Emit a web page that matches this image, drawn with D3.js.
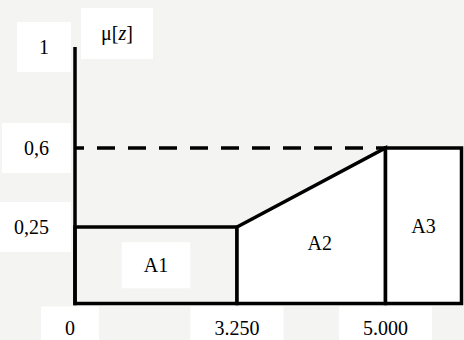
<!DOCTYPE html>
<html>
<head>
<meta charset="utf-8">
<script src="https://cdn.jsdelivr.net/npm/d3@7"></script>
<style>
  body { margin: 0; background: #f4f5f2; }
  svg { display: block; }
</style>
</head>
<body>
<svg id="chart" width="464" height="340" font-family="'Liberation Serif', 'DejaVu Serif', serif" font-size="20"></svg>
<script>
// values
var xBreaks = [0, 3250, 5000, 6000];
var yBreaks = [0, 0.25, 0.6, 1];
var xTicks = [0, 3250, 5000];
var xTickLabels = ['0', '3.250', '5.000'];
var yTicks = [1, 0.6, 0.25];
var yTickLabels = ['1', '0,6', '0,25'];
var regionNames = ['A1', 'A2', 'A3'];
var regionX = [[0, 3250], [3250, 5000], [5000, 6000]];
var regionTop = [[0.25, 0.25], [0.25, 0.6], [0.6, 0.6]];
var regionFill = ['none', '#fff', '#fff'];
var dashLevel = 0.6;

var svg = d3.select('#chart');

// the drawing is schematic, so each segment gets its own stretch
var x = d3.scaleLinear().domain(xBreaks).range([75, 237, 385.5, 461.5]);
var y = d3.scaleLinear().domain(yBreaks).range([303.5, 227, 148, 47]);

var boxG = svg.append('g');
var markG = svg.append('g');
var textG = svg.append('g');

function labelBox(t, padX, padY) {
  var b = t.node().getBBox();
  boxG.append('rect')
    .attr('x', b.x - padX).attr('y', b.y - padY)
    .attr('width', b.width + 2 * padX).attr('height', b.height + 2 * padY)
    .attr('fill', '#fff');
}

// regions
var polys = regionNames.map(function(name, i) {
  var x0 = regionX[i][0], x1 = regionX[i][1];
  return [[x(x0), y(0)], [x(x0), y(regionTop[i][0])], [x(x1), y(regionTop[i][1])], [x(x1), y(0)]];
});

markG.selectAll('.region')
  .data(polys)
  .enter()
  .append('path')
  .attr('class', 'region')
  .attr('d', function(d) { return 'M' + d.join('L') + 'Z'; })
  .attr('fill', function(d, i) { return regionFill[i]; })
  .attr('stroke', '#000')
  .attr('stroke-width', 3.5)
  .attr('stroke-linejoin', 'miter');

// dashed guide at 0.6
markG.append('line')
  .attr('x1', x(0)).attr('x2', x(5000))
  .attr('y1', y(dashLevel)).attr('y2', y(dashLevel))
  .attr('stroke', '#000')
  .attr('stroke-width', 3.5)
  .attr('stroke-dasharray', '18,13')
  .attr('stroke-dashoffset', 9);

// y axis
markG.append('line')
  .attr('x1', x(0)).attr('x2', x(0))
  .attr('y1', y(0) + 1.75).attr('y2', y(1))
  .attr('stroke', '#000')
  .attr('stroke-width', 3.5);

// region labels at polygon centroids
regionNames.forEach(function(name, i) {
  var c = d3.polygonCentroid(polys[i]);
  var t = textG.append('text')
    .attr('x', c[0]).attr('y', c[1])
    .attr('dy', '0.35em')
    .attr('text-anchor', 'middle')
    .text(name);
  if (i === 0) labelBox(t, 22, 12);
});

// y tick labels
yTicks.forEach(function(v, i) {
  var t = textG.append('text')
    .attr('x', 49).attr('y', y(v))
    .attr('dy', '0.35em')
    .attr('text-anchor', 'end')
    .text(yTickLabels[i]);
  labelBox(t, 22, 14);
});

// x tick labels
xTicks.forEach(function(v, i) {
  var t = textG.append('text')
    .attr('x', x(v) - (i === 0 ? 5 : 0)).attr('y', y(0) + 31)
    .attr('text-anchor', 'middle')
    .text(xTickLabels[i]);
  labelBox(t, 24, 10);
});

// axis title
var title = textG.append('text')
  .attr('x', x(0) + 42).attr('y', y(1) - 7)
  .attr('text-anchor', 'middle');
title.append('tspan').text('\u03bc[');
title.append('tspan').attr('font-style', 'italic').text('z');
title.append('tspan').text(']');
labelBox(title, 20, 14);
</script>
</body>
</html>
